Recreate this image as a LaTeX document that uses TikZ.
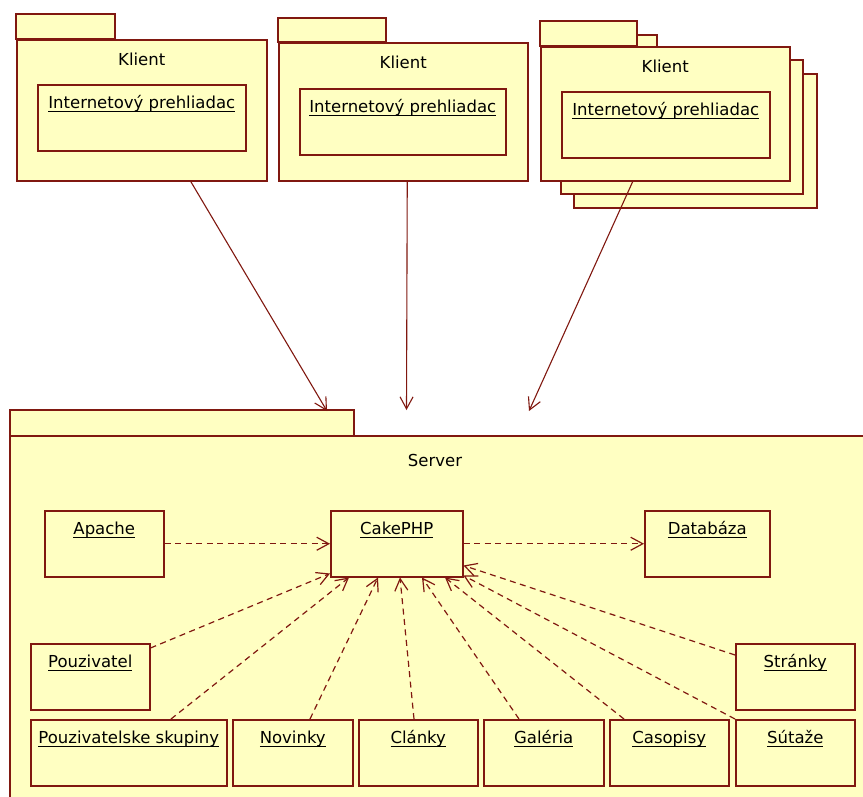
\documentclass[tikz,border=0pt]{standalone}
\usepackage{fontspec}
\setmainfont{DejaVu Sans}
\usetikzlibrary{arrows.meta}

\definecolor{umlline}{RGB}{128,24,16}
\definecolor{umlfill}{RGB}{255,255,194}
\newcommand{\ulname}[1]{\setbox0\hbox{#1}\rlap{\rule[-3pt]{\wd0}{1.1pt}}\box0}

\tikzset{
  pkgtab/.style={draw=umlline, fill=umlfill, line width=1.5pt},
  pkgbody/.style={draw=umlline, fill=umlfill, line width=1.5pt, inner sep=0pt, anchor=north west, text height=26pt},
  comp/.style={draw=umlline, fill=umlfill, line width=1.5pt, inner sep=0pt, anchor=north west,
    text height=24pt, text depth=42pt, minimum width=#1},
  dep/.style={draw=umlline, line width=1.2pt, dash pattern=on 6pt off 4.5pt, -{Straight Barb[length=12pt,width=13pt]}},
  link/.style={draw=umlline, line width=1.1pt, -{Straight Barb[length=12pt,width=13pt]}}
}

\begin{document}
\begin{tikzpicture}[x=1pt, y=-1pt, font=\fontsize{16.5}{20}\selectfont]
    \clip (0,0) rectangle (863,796);

    % Klient packages
    \draw[pkgtab] (16,14) rectangle (115,39);
    \node[pkgbody, minimum width=250pt, text depth=115pt] (klient1) at (16,39) {Klient};
    \node[comp=208pt] (browser1) at (37,84) {\ulname{Internetový prehliadac}};

    \draw[pkgtab] (278,18) rectangle (386,42);
    \node[pkgbody, minimum width=249pt, text depth=112pt] (klient2) at (278,42) {Klient};
    \node[comp=206pt] (browser2) at (299,88) {\ulname{Internetový prehliadac}};

    \draw[pkgtab] (574,49) rectangle (671,74);
    \draw[pkgtab] (574,74) rectangle (817,208);
    \draw[pkgtab] (560,35) rectangle (657,60);
    \draw[pkgtab] (561,60) rectangle (803,194);
    \draw[pkgtab] (540,21) rectangle (637,46);
    \node[pkgbody, minimum width=249pt, text depth=108pt] (klient3) at (540,46) {Klient};
    \node[comp=208pt] (browser3) at (561,91) {\ulname{Internetový prehliadac}};

    % Server package
    \draw[pkgtab] (10,410) rectangle (354,436);
    \draw[pkgtab] (10,436) rectangle (880,820);
    \node (server) at (435,460) {Server};

    % Clients to server
    \coordinate (in1) at (327,411);
    \coordinate (in2) at (406.5,410);
    \coordinate (in3) at (529,411);
    \draw[link] ([xshift=49pt]klient1.south) -- (in1);
    \draw[link] ([xshift=4pt]klient2.south) -- (in2);
    \draw[link] ([xshift=-32.5pt]klient3.south) -- (in3);

    % Components
    \node[comp=119pt] (apache) at (44,510) {\ulname{Apache}};
    \node[comp=132pt] (cake) at (330,510) {\ulname{CakePHP}};
    \node[comp=125pt] (db) at (644,510) {\ulname{Databáza}};
    \node[comp=119pt] (pouz) at (30,643) {\ulname{Pouzivatel}};
    \node[comp=119pt] (stranky) at (735,643) {\ulname{Stránky}};
    \node[comp=196pt] (skup) at (30,719) {\ulname{Pouzivatelske skupiny}};
    \node[comp=120pt] (novinky) at (232,719) {\ulname{Novinky}};
    \node[comp=119pt] (clanky) at (358,719) {\ulname{Clánky}};
    \node[comp=120pt] (galeria) at (483,719) {\ulname{Galéria}};
    \node[comp=119pt] (casopisy) at (609,719) {\ulname{Casopisy}};
    \node[comp=119pt] (sutaze) at (735,719) {\ulname{Sútaže}};

    % Dependencies
    \draw[dep] (apache) -- (cake);
    \draw[dep] (cake) -- (db);
    \draw[dep] ([yshift=-5pt]pouz.north east) -- ([yshift=4pt]cake.south west);
    \draw[dep] ([xshift=141pt]skup.north west) -- ([xshift=19pt]cake.south west);
    \draw[dep] ([xshift=78pt]novinky.north west) -- ([xshift=48pt]cake.south west);
    \draw[dep] ([xshift=56pt]clanky.north west) -- ([xshift=70pt]cake.south west);
    \draw[dep] ([xshift=36pt]galeria.north west) -- ([xshift=92pt]cake.south west);
    \draw[dep] ([xshift=15pt]casopisy.north west) -- ([xshift=115pt]cake.south west);
    \draw[dep] (sutaze.north west) -- ([yshift=2pt]cake.south east);
    \draw[dep] ([yshift=-12pt]stranky.north west) -- ([yshift=12pt]cake.south east);
\end{tikzpicture}
\end{document}
